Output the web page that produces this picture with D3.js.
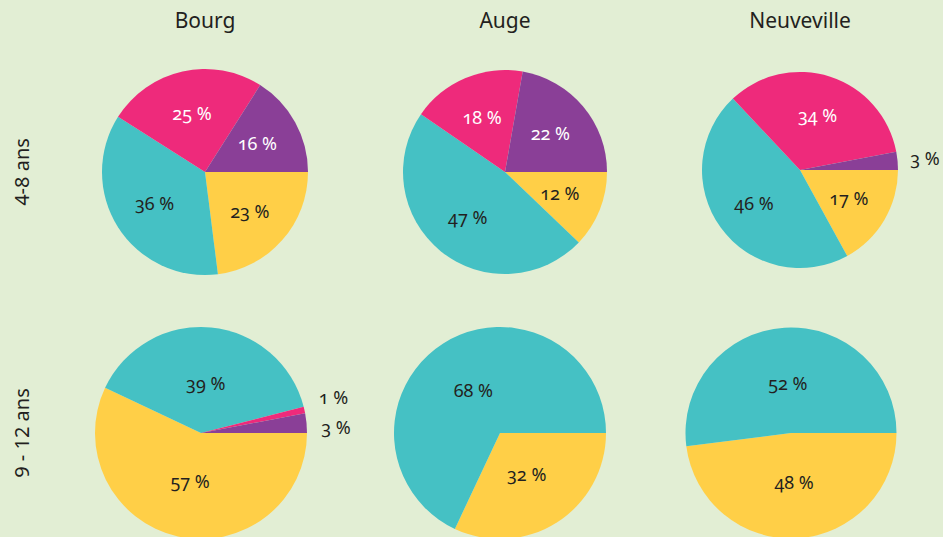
<!DOCTYPE html>
<html>
<head>
<meta charset="utf-8">
<script src="https://cdn.jsdelivr.net/npm/d3@7"></script>
<style>
  html, body { margin: 0; padding: 0; background: #e2eed4; }
  svg { display: block; font-family: "Noto Sans", "Open Sans", sans-serif; }
  .title { font-size: 21px; fill: #231f20; }
  .row-label { font-size: 20px; fill: #231f20; }
  .pct { font-size: 18px; font-variant-numeric: oldstyle-nums; font-feature-settings: "onum" 1; }
</style>
</head>
<body>
<div id="chart"></div>
<script>
const towns = ['Bourg', 'Auge', 'Neuveville'];
const ageGroups = ['4-8 ans', '9 - 12 ans'];
// slice order, clockwise from 3 o'clock
const sliceKeys = ['jaune', 'turquoise', 'rose', 'violet'];
const sliceColors = ['#ffcf47', '#45c1c4', '#ee2a7b', '#8a3f97'];

const young = [
  [23, 36, 25, 16],
  [12, 47, 18, 22],
  [17, 46, 34, 3]
];
const older = [
  [57, 39, 1, 3],
  [32, 68, 0, 0],
  [48, 52, 0, 0]
];

// layout of each pie: centre and radius, per row
const centresTop = [[205, 172, 103], [505, 172, 102], [800, 170, 98]];
const centresBottom = [[201, 433, 106], [500, 433, 106], [791, 433, 105.5]];

const width = 943;
const height = 537;

const svg = d3.select('#chart').append('svg')
  .attr('width', width)
  .attr('height', height)
  .attr('viewBox', `0 0 ${width} ${height}`);

svg.append('rect').attr('width', width).attr('height', height).attr('fill', '#e2eed4');

const color = d3.scaleOrdinal().domain(sliceKeys).range(sliceColors);

const pie = d3.pie()
  .sort(null)
  .value((d) => d.value)
  .startAngle(Math.PI / 2)
  .endAngle(Math.PI / 2 + 2 * Math.PI);

// column titles
svg.selectAll('text.title')
  .data(towns)
  .join('text')
  .attr('class', 'title')
  .attr('x', (_, i) => centresTop[i][0])
  .attr('y', 28)
  .attr('text-anchor', 'middle')
  .text((d) => d);

// row titles
const rowY = [centresTop[0][1], centresBottom[0][1]];
svg.selectAll('text.row-label')
  .data(ageGroups)
  .join('text')
  .attr('class', 'row-label')
  .attr('transform', (_, i) => `translate(29,${rowY[i]}) rotate(-90)`)
  .attr('text-anchor', 'middle')
  .text((d) => d);

function drawPie(values, geom, labelRatio) {
  const [cx, cy, r] = geom;
  const rows = values.map((v, i) => ({ key: sliceKeys[i], value: v })).filter((d) => d.value > 0);
  const arcs = pie(rows);
  const g = svg.append('g').attr('transform', `translate(${cx},${cy})`);
  const arc = d3.arc().innerRadius(0).outerRadius(r);
  const inner = d3.arc().innerRadius(r * labelRatio).outerRadius(r * labelRatio);
  const outer = d3.arc().innerRadius(r * 1.28).outerRadius(r * 1.28);

  g.selectAll('path')
    .data(arcs)
    .join('path')
    .attr('d', arc)
    .attr('fill', (d) => color(d.data.key));

  const labels = arcs.map((d) => {
    const out = d.data.value < 5;
    const [x, y] = out ? outer.centroid(d) : inner.centroid(d);
    return { d, out, x, y };
  });
  // spread outside labels that collide
  const outs = labels.filter((l) => l.out).sort((a, b) => a.y - b.y);
  for (let i = 1; i < outs.length; i++) {
    if (outs[i].y - outs[i - 1].y < 30) {
      const mid = (outs[i].y + outs[i - 1].y) / 2;
      outs[i - 1].y = mid - 14;
      outs[i].y = mid + 16;
    }
  }

  g.selectAll('text.pct')
    .data(labels)
    .join('text')
    .attr('class', 'pct')
    .attr('x', (l) => l.x)
    .attr('y', (l) => l.y)
    .attr('dy', '0.35em')
    .attr('text-anchor', 'middle')
    .attr('fill', (l) => (!l.out && (l.d.data.key === 'rose' || l.d.data.key === 'violet') ? '#ffffff' : '#231f20'))
    .text((l) => `${l.d.data.value} %`);
}

young.forEach((v, i) => drawPie(v, centresTop[i], 0.58));
older.forEach((v, i) => drawPie(v, centresBottom[i], 0.47));
</script>
</body>
</html>
